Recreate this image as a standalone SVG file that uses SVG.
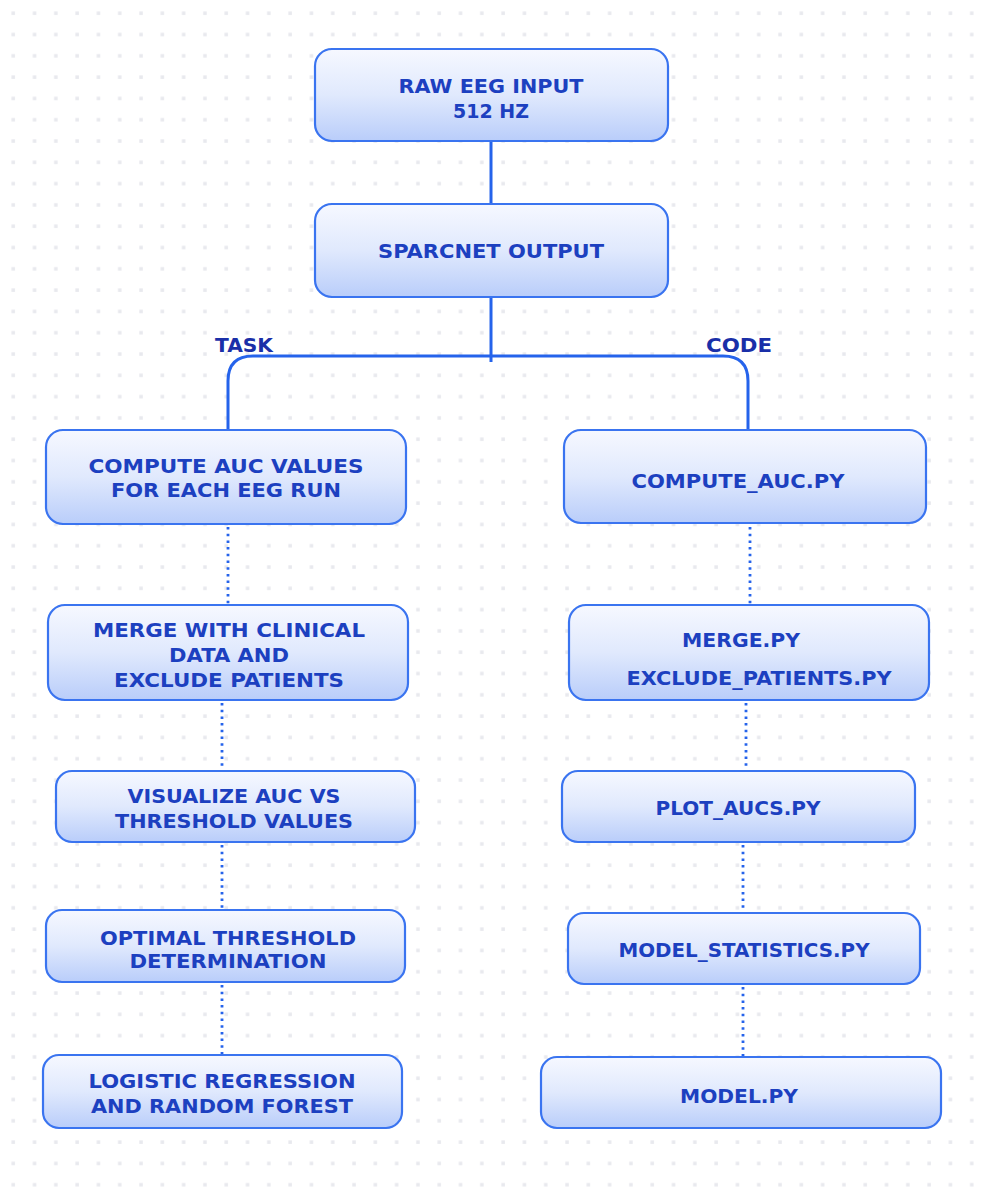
<svg xmlns="http://www.w3.org/2000/svg" width="989" height="1204" viewBox="0 0 989 1204">
<defs>
<pattern id="dots" x="2.5" y="2.5" width="21.3" height="21.3" patternUnits="userSpaceOnUse">
<rect x="9" y="9" width="3.5" height="3.5" fill="#e8e9ee"/>
</pattern>
<linearGradient id="fillg" x1="0" y1="0" x2="0" y2="1">
<stop offset="0" stop-color="#f6f8ff"/>
<stop offset="0.5" stop-color="#e0e9fd"/>
<stop offset="1" stop-color="#b9cdfa"/>
</linearGradient>
<style>
.box{fill:url(#fillg);stroke:#3a74f0;stroke-width:2.2}
.t{font-family:"DejaVu Sans","Noto Sans",sans-serif;font-weight:700;font-size:19.5px;fill:#1c40c0;text-anchor:middle}
.lbl{font-family:"DejaVu Sans","Noto Sans",sans-serif;font-weight:700;font-size:19.5px;fill:#1a2fa8;text-anchor:middle}
.solid{fill:none;stroke:#2563eb;stroke-width:3}
.dot{fill:none;stroke:#2563eb;stroke-width:2.8;stroke-dasharray:2.5 4.2}
</style>
</defs>
<rect width="989" height="1204" fill="#ffffff"/>
<rect width="989" height="1204" fill="url(#dots)"/>

<g id="connectors">
<line class="solid" x1="491" y1="142" x2="491" y2="204"/>
<line class="solid" x1="491" y1="297" x2="491" y2="362"/>
<path class="solid" d="M228 430 V381 Q228 356 253 356 H723 Q748 356 748 381 V430"/>
<line class="dot" x1="228" y1="527" x2="228" y2="604"/>
<line class="dot" x1="222" y1="703" x2="222" y2="770"/>
<line class="dot" x1="222" y1="845" x2="222" y2="909"/>
<line class="dot" x1="222" y1="985" x2="222" y2="1054"/>
<line class="dot" x1="750" y1="527" x2="750" y2="604"/>
<line class="dot" x1="746" y1="703" x2="746" y2="770"/>
<line class="dot" x1="743" y1="845" x2="743" y2="912"/>
<line class="dot" x1="743" y1="987" x2="743" y2="1056"/>
</g>

<g id="label-task"><text class="lbl" x="244" y="352" textLength="58" lengthAdjust="spacingAndGlyphs">TASK</text></g>
<g id="label-code"><text class="lbl" x="739" y="352" textLength="66" lengthAdjust="spacingAndGlyphs">CODE</text></g>

<g id="raw-eeg">
<rect class="box" x="315" y="49" width="353" height="92" rx="17"/>
<text class="t" x="491" y="93" textLength="185" lengthAdjust="spacingAndGlyphs">RAW EEG INPUT</text>
<text class="t" x="491" y="118" textLength="76" lengthAdjust="spacingAndGlyphs">512 HZ</text>
</g>
<g id="sparcnet">
<rect class="box" x="315" y="204" width="353" height="93" rx="17"/>
<text class="t" x="491" y="258" textLength="226" lengthAdjust="spacingAndGlyphs">SPARCNET OUTPUT</text>
</g>

<g id="compute-auc">
<rect class="box" x="46" y="430" width="360" height="94" rx="17"/>
<text class="t" x="226" y="473" textLength="275" lengthAdjust="spacingAndGlyphs">COMPUTE AUC VALUES</text>
<text class="t" x="226" y="497" textLength="230" lengthAdjust="spacingAndGlyphs">FOR EACH EEG RUN</text>
</g>
<g id="merge">
<rect class="box" x="48" y="605" width="360" height="95" rx="17"/>
<text class="t" x="229" y="637" textLength="272" lengthAdjust="spacingAndGlyphs">MERGE WITH CLINICAL</text>
<text class="t" x="229" y="662" textLength="120" lengthAdjust="spacingAndGlyphs">DATA AND</text>
<text class="t" x="229" y="687" textLength="230" lengthAdjust="spacingAndGlyphs">EXCLUDE PATIENTS</text>
</g>
<g id="visualize">
<rect class="box" x="56" y="771" width="359" height="71" rx="16"/>
<text class="t" x="234" y="803" textLength="213" lengthAdjust="spacingAndGlyphs">VISUALIZE AUC VS</text>
<text class="t" x="234" y="828" textLength="238" lengthAdjust="spacingAndGlyphs">THRESHOLD VALUES</text>
</g>
<g id="optimal">
<rect class="box" x="46" y="910" width="359" height="72" rx="16"/>
<text class="t" x="228" y="945" textLength="256" lengthAdjust="spacingAndGlyphs">OPTIMAL THRESHOLD</text>
<text class="t" x="228" y="968" textLength="197" lengthAdjust="spacingAndGlyphs">DETERMINATION</text>
</g>
<g id="logistic">
<rect class="box" x="43" y="1055" width="359" height="73" rx="16"/>
<text class="t" x="222" y="1088" textLength="267" lengthAdjust="spacingAndGlyphs">LOGISTIC REGRESSION</text>
<text class="t" x="222" y="1113" textLength="262" lengthAdjust="spacingAndGlyphs">AND RANDOM FOREST</text>
</g>

<g id="compute-auc-py">
<rect class="box" x="564" y="430" width="362" height="93" rx="17"/>
<text class="t" x="738" y="488" textLength="213" lengthAdjust="spacingAndGlyphs">COMPUTE_AUC.PY</text>
</g>
<g id="merge-py">
<rect class="box" x="569" y="605" width="360" height="95" rx="17"/>
<text class="t" x="741" y="647" textLength="118" lengthAdjust="spacingAndGlyphs">MERGE.PY</text>
<text class="t" x="759" y="685" textLength="265" lengthAdjust="spacingAndGlyphs">EXCLUDE_PATIENTS.PY</text>
</g>
<g id="plot-aucs-py">
<rect class="box" x="562" y="771" width="353" height="71" rx="16"/>
<text class="t" x="738" y="815" textLength="165" lengthAdjust="spacingAndGlyphs">PLOT_AUCS.PY</text>
</g>
<g id="model-statistics-py">
<rect class="box" x="568" y="913" width="352" height="71" rx="16"/>
<text class="t" x="744" y="957" textLength="251" lengthAdjust="spacingAndGlyphs">MODEL_STATISTICS.PY</text>
</g>
<g id="model-py">
<rect class="box" x="541" y="1057" width="400" height="71" rx="16"/>
<text class="t" x="739" y="1103" textLength="118" lengthAdjust="spacingAndGlyphs">MODEL.PY</text>
</g>
</svg>
